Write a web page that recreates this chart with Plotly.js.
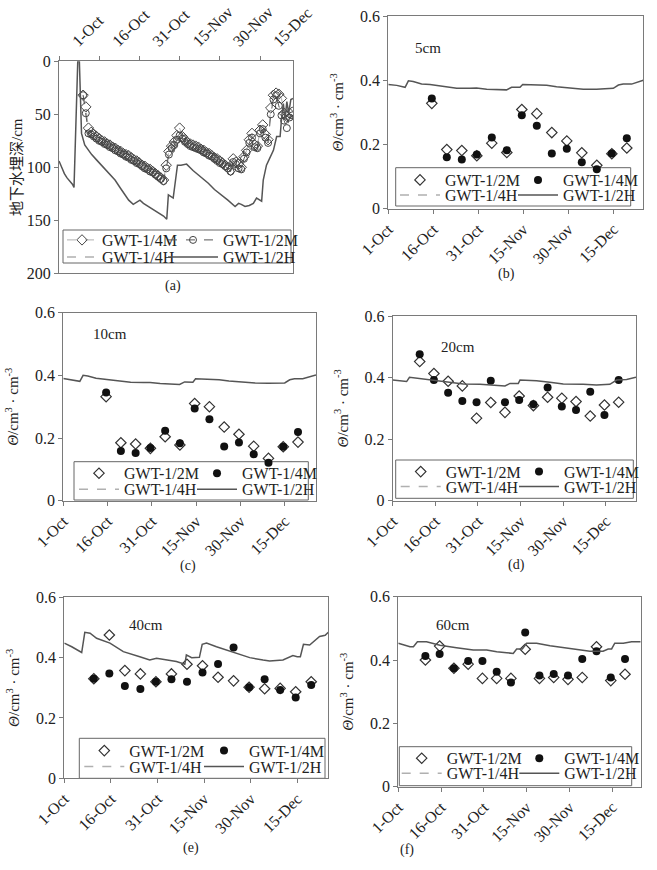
<!DOCTYPE html>
<html><head><meta charset="utf-8">
<script src="https://cdn.plot.ly/plotly-3.0.1.min.js"></script>
<style>html,body{margin:0;padding:0;background:#fff}#c{width:657px;height:870px}</style>
</head><body><div id="c"></div>
<script>
// ---------- tick labels ----------
const tickDays = [0, 15, 30, 45, 60, 75];
const tickText = ['1-Oct', '16-Oct', '31-Oct', '15-Nov', '30-Nov', '15-Dec'];
const names = {m12: 'GWT-1/2M', m14: 'GWT-1/4M', h14: 'GWT-1/4H', h12: 'GWT-1/2H'};

// ---------- (a) groundwater depth, cm (day 0 = 1-Oct) ----------
const dayA = [9,10,11,12,13,14,15,16,17,18,19,20,21,22,23,24,25,26,27,28,29,30,31,32,33,34,35,36,37,38,39,40,41,42,43,44,45,46,47,48,49,50,51,52,53,54,55,56,57,58,59,60,61,62,63,64,65,66,67,68,69,70,71,72,73,74,75,76,77,78,79,80,81,82,83,84,85,86,87];
const a14M = [32,43,63,67,69,71,73,75,76,78,79,81,82,84,85,87,88,89,91,93,94,96,98,99,101,102,104,106,108,110,112,98,85,80,76,70,63,71,74,77,78,79,80,81,83,84,86,87,89,91,92,94,96,98,100,103,92,95,97,100,90,84,74,68,79,80,65,60,69,74,44,32,30,31,35,49,52,49,48];
const a12M = [32,49,68,69,71,73,75,76,78,79,81,82,84,85,87,88,90,91,93,94,96,97,99,101,102,104,105,107,109,111,113,101,88,82,79,74,70,73,76,78,80,81,82,83,84,86,87,89,90,92,94,96,97,99,101,104,95,97,101,102,92,86,77,72,81,82,68,64,72,77,50,36,32,42,51,56,63,53,51];
const dayAH = [0,1,2,3,4,5,5.6,7,7.6,8.4,9.6,11,12.2,14,15.9,18,20.9,23,24.6,26,27.7,29,30.2,31.5,33.3,35,37,39,40.2,40.8,42.6,44.2,45.5,47.6,50,52,55.7,58,60.7,63,65.7,67,68,69.4,71,72.5,73.7,75.6,76.2,77.4,78.5,80,81.2,82.5,83.1,83.7,84.3,85,85.7,86.5,87.3];
const a12H = [94,100,106,110,113,116,119,0,0,68,79,84,88,93,98,104,112,120,126,131,135,133,131,134,137,140,143,146,149,126,129,98,98,97,103,107,115,121,126,131,137,134,135,137,136,134,129,132,112,98,92,84,71,71,52,40,55,38,49,36,35];

// ---------- (b)-(f) soil water content, cm3/cm3 ----------
const dayM = [9.5,14.5,19.5,24.5,29.5,34.5,39.5,44.5,49.5,54.5,59.5,64.5,69.5,74.5,79.5];
// (b) 5 cm
const b12M = [null,0.328,0.184,0.181,0.165,0.204,0.175,0.309,0.296,0.237,0.211,0.174,0.135,0.171,0.189];
const b14M = [null,0.343,0.160,0.153,0.169,0.222,0.182,0.291,0.258,0.172,0.187,0.145,0.123,0.172,0.219];
const dayBH = [0,2.8,5.6,6.7,8.3,11.1,13.9,18.3,22.8,27.2,29.4,32.8,36.1,39.4,41.1,43.9,44.8,49.4,52.8,56.1,60.6,65,69.4,72.8,75,76.7,78.3,81.1,83.3,85];
const b12H = [0.387,0.384,0.378,0.398,0.396,0.388,0.387,0.382,0.375,0.375,0.376,0.372,0.370,0.370,0.378,0.378,0.387,0.385,0.384,0.380,0.376,0.372,0.372,0.375,0.375,0.385,0.388,0.388,0.396,0.400];
// (c) 10 cm
const c12M = [null,0.332,0.185,0.181,0.167,0.204,0.178,0.310,0.300,0.235,0.212,0.174,0.135,0.172,0.187];
const c14M = [null,0.345,0.159,0.152,0.168,0.223,0.183,0.294,0.260,0.173,0.186,0.148,0.121,0.172,0.219];
const dayCH = [0,2.8,5.6,6.7,8.3,11.1,13.9,18.3,22.8,27.2,29.4,32.8,36.1,39.4,41.1,43.9,44.8,49.4,52.8,56.1,60.6,65,69.4,72.8,75,76.7,78.3,81.1,83.3,85.6];
const c12H = [0.390,0.386,0.381,0.400,0.398,0.391,0.388,0.383,0.378,0.377,0.377,0.374,0.373,0.371,0.379,0.378,0.389,0.387,0.386,0.382,0.378,0.376,0.375,0.376,0.376,0.386,0.389,0.389,0.396,0.401];
// (d) 20 cm
const d12M = [0.452,0.413,0.388,0.373,0.268,0.319,0.287,0.340,0.309,0.336,0.333,0.322,0.275,0.311,0.320];
const d14M = [0.476,0.392,0.351,0.324,0.320,0.390,0.320,0.327,0.313,0.368,0.306,0.295,0.354,0.278,0.392];
const dayDH = [0,4.9,5.9,8.4,13.1,19,24.9,30.7,36.6,39.5,41.3,44.2,44.8,50.6,55.3,60,67,71.7,76.4,78.8,82.3,85.6];
const d12H = [0.392,0.387,0.401,0.398,0.392,0.385,0.379,0.378,0.376,0.373,0.381,0.381,0.392,0.390,0.385,0.379,0.378,0.376,0.378,0.392,0.394,0.401];
// (e) 40 cm
const e12M = [0.330,0.475,0.357,0.346,0.320,0.346,0.378,0.373,0.335,0.323,0.302,0.297,0.298,0.287,0.320];
const e14M = [0.330,0.347,0.306,0.296,0.320,0.328,0.320,0.351,0.379,0.434,0.302,0.328,0.293,0.268,0.309];
const dayEH = [0,2.4,5.6,6.6,8.3,10.4,14.7,19,24.3,27.5,29.7,32.9,36.1,38.8,39.3,41,43.5,44.4,45.8,49,54.3,59.7,64,66.1,70.4,73.6,75,76,77,79,82.2,84,85];
const e12H = [0.448,0.436,0.417,0.484,0.481,0.464,0.448,0.420,0.403,0.392,0.398,0.392,0.387,0.378,0.409,0.400,0.401,0.444,0.448,0.436,0.418,0.400,0.392,0.389,0.392,0.407,0.403,0.403,0.444,0.442,0.470,0.474,0.484];
// (f) 60 cm
const f12M = [0.400,0.444,0.374,0.387,0.342,0.342,0.342,0.434,0.342,0.345,0.339,0.345,0.442,0.335,0.355];
const f14M = [0.413,0.419,0.374,0.397,0.397,0.363,0.329,0.487,0.351,0.356,0.351,0.403,0.428,0.345,0.403];
const dayFH = [0,4.1,5.3,6.7,9.9,14.6,20.4,26.3,31,34.5,38,40.3,41.5,43.5,45,48.5,53.2,57.8,62.5,67.2,71.8,73.6,74.8,75.9,78.9,81.8,85];
const f12H = [0.453,0.442,0.442,0.458,0.458,0.447,0.439,0.432,0.432,0.426,0.423,0.421,0.435,0.435,0.453,0.453,0.445,0.439,0.432,0.428,0.428,0.435,0.435,0.453,0.453,0.458,0.458];

// ---------- layout helpers ----------
const W = 657, H = 870;
const px = v => v / W, py = v => 1 - v / H;
const FONT = "'Liberation Serif', 'Times New Roman', 'Noto Sans CJK SC', serif";
const INK = '#222', AX = '#7a7a7a', LIGHT = '#b0b0b0', DARK = '#555';

// panel boxes in page pixels: [left, right, top, bottom]; legend columns/rows; label spots
const panels = [
  {id:'a', box:[59,293,61.3,273.3], xmax:87.3, leg:{L:62, L2:163, w1:30, w2:50, r1:240, r2:257, box:[63,291,230,263]}, lab:[173,286]},
  {id:'b', box:[388.3,643.3,16,208.7], xmax:85, leg:{L:395, L2:513, w1:40, w2:40, r1:180, r2:195, box:[395.7,630.7,167.7,206]}, lab:[506.7,274], depth:['5cm',428,48]},
  {id:'c', box:[63.3,316,312.7,500.7], xmax:85.6, leg:{L:74, L2:192, w1:40, w2:40, r1:473.3, r2:489.3, box:[74,308.3,461.7,500]}, lab:[188,566], depth:['10cm',110,334]},
  {id:'d', box:[392.7,636,316,500.7], xmax:85.6, leg:{L:395.7, L2:514, w1:40, w2:40, r1:471.7, r2:486.7, box:[395.7,633.3,460,498.3]}, lab:[516.7,565], depth:['20cm',458,347]},
  {id:'e', box:[64.3,328.3,597.3,778.3], xmax:85, leg:{L:79.3, L2:199, w1:40, w2:40, r1:750.7, r2:766.7, box:[79.3,325,738.3,778.3]}, lab:[191,848], depth:['40cm',146,625]},
  {id:'f', box:[398.3,640.7,596.7,786.7], xmax:85, leg:{L:396.7, L2:514.3, w1:40, w2:40, r1:758.3, r2:773.3, box:[399.3,631.7,746.7,785.7]}, lab:[407,850], depth:['60cm',453,625]}
];

const layout = {
  width: W, height: H,
  margin: {l:0, r:0, t:0, b:0},
  paper_bgcolor: '#fff', plot_bgcolor: '#fff',
  font: {family: FONT, size: 16, color: INK},
  showlegend: true,
  shapes: [], annotations: []
};

const traces = [];
const legFont = {family: FONT, size: 16, color: INK};
let legCount = 0;
function addLegend(L, yc, w) {
  legCount += 1;
  const key = legCount === 1 ? 'legend' : 'legend' + legCount;
  layout[key] = {
    x: px(L), xanchor: 'left', y: py(yc), yanchor: 'middle',
    orientation: 'v', itemwidth: w,
    bgcolor: 'rgba(0,0,0,0)', borderwidth: 0, font: legFont,
    itemclick: false, itemdoubleclick: false
  };
  return key;
}

panels.forEach((p, i) => {
  const n = i + 1;
  const xk = n === 1 ? 'xaxis' : 'xaxis' + n;
  const yk = n === 1 ? 'yaxis' : 'yaxis' + n;
  const xr = n === 1 ? 'x' : 'x' + n;
  const yr = n === 1 ? 'y' : 'y' + n;
  const [l, r, t, b] = p.box;
  const isA = p.id === 'a';

  layout[xk] = {
    domain: [px(l), px(r)], anchor: yr, range: [0, p.xmax],
    side: isA ? 'top' : 'bottom',
    tickvals: tickDays, ticktext: tickText, tickangle: -45,
    ticks: 'outside', ticklen: 4, tickcolor: AX,
    showline: true, mirror: true, linecolor: AX, linewidth: 1,
    showgrid: false, zeroline: false,
    tickfont: {family: FONT, size: 16, color: INK}
  };
  if (isA) layout[xk].ticklabelshift = 14;

  layout[yk] = {
    domain: [py(b), py(t)], anchor: xr,
    range: isA ? [200, 0] : [0, 0.6],
    tickvals: isA ? [0, 50, 100, 150, 200] : [0, 0.2, 0.4, 0.6],
    ticktext: isA ? ['0', '50', '100', '150', '200'] : ['0', '0.2', '0.4', '0.6'],
    ticks: 'outside', ticklen: 4, tickcolor: AX,
    showline: true, mirror: true, linecolor: AX, linewidth: 1,
    showgrid: false, zeroline: false,
    tickfont: {family: FONT, size: 16, color: INK},
    title: {
      text: isA ? '地下水埋深/cm' : '<i>Θ</i>/cm<sup>3</sup> · cm<sup>-3</sup>',
      font: {family: FONT, size: 15, color: INK},
      standoff: isA ? 0 : 12
    }
  };

  const g = p.leg;
  const lgA = addLegend(g.L, g.r1, g.w1);
  const lgB = addLegend(g.L2, g.r1, g.w2);
  const lgC = addLegend(g.L, g.r2, g.w1);
  const lgD = addLegend(g.L2, g.r2, g.w2);

  layout.shapes.push({type: 'rect', xref: 'paper', yref: 'paper', layer: 'below',
    x0: px(g.box[0]), x1: px(g.box[1]), y0: py(g.box[3]), y1: py(g.box[2]),
    line: {color: '#666', width: 1}, fillcolor: 'rgba(0,0,0,0)'});

  layout.annotations.push({xref: 'paper', yref: 'paper', x: px(p.lab[0]), y: py(p.lab[1]),
    text: '(' + p.id + ')', showarrow: false, xanchor: 'center', yanchor: 'middle',
    font: {family: FONT, size: 14, color: INK}});
  if (p.depth) {
    layout.annotations.push({xref: 'paper', yref: 'paper', x: px(p.depth[1]), y: py(p.depth[2]),
      text: p.depth[0], showarrow: false, xanchor: 'center', yanchor: 'middle',
      font: {family: FONT, size: 15, color: INK}});
  }

  // GWT-1/4H is listed in every legend but its line is not visible in the figure
  const h14 = {x: [null], y: [null], xaxis: xr, yaxis: yr, name: names.h14, mode: 'lines',
    line: {color: LIGHT, width: 1.5, dash: 'dash'}, showlegend: true, hoverinfo: 'skip', legend: lgC};

  if (isA) {
    traces.push({x: dayA, y: a14M, xaxis: xr, yaxis: yr, name: names.m14, mode: 'lines+markers',
      line: {color: LIGHT, width: 1, dash: 'dash'},
      marker: {symbol: 'diamond-open', size: 8, color: '#444', line: {width: 1, color: '#444'}},
      legend: lgA, showlegend: true});
    traces.push({x: dayA, y: a12M, xaxis: xr, yaxis: yr, name: names.m12, mode: 'lines+markers',
      line: {color: DARK, width: 1, dash: 'dash'},
      marker: {symbol: 'circle-open', size: 7, color: '#444', line: {width: 1, color: '#444'}},
      legend: lgB, showlegend: true});
    traces.push(h14);
    traces.push({x: dayAH, y: a12H, xaxis: xr, yaxis: yr, name: names.h12, mode: 'lines',
      line: {color: DARK, width: 1.5}, legend: lgD, showlegend: true});
  } else {
    const data = {
      b: [b12M, b14M, dayBH, b12H], c: [c12M, c14M, dayCH, c12H], d: [d12M, d14M, dayDH, d12H],
      e: [e12M, e14M, dayEH, e12H], f: [f12M, f14M, dayFH, f12H]
    }[p.id];
    traces.push({x: dayM, y: data[0], xaxis: xr, yaxis: yr, name: names.m12, mode: 'markers',
      marker: {symbol: 'diamond-open', size: 8, color: '#333', line: {width: 1.2, color: '#333'}},
      legend: lgA, showlegend: true});
    traces.push({x: dayM, y: data[1], xaxis: xr, yaxis: yr, name: names.m14, mode: 'markers',
      marker: {symbol: 'circle', size: 8, color: '#111'},
      legend: lgB, showlegend: true});
    traces.push(h14);
    traces.push({x: data[2], y: data[3], xaxis: xr, yaxis: yr, name: names.h12, mode: 'lines',
      line: {color: DARK, width: 1.5}, legend: lgD, showlegend: true});
  }
});

Plotly.newPlot('c', traces, layout, {staticPlot: true, displayModeBar: false});
</script>
</body></html>
